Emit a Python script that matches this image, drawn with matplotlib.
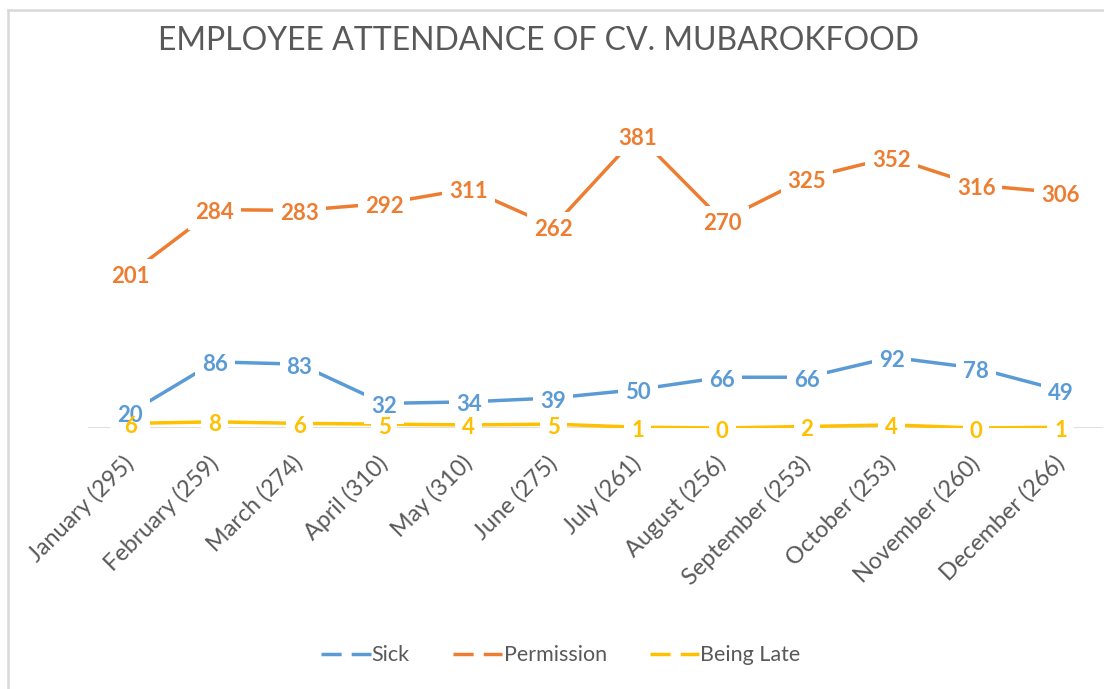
import matplotlib.pyplot as plt
from matplotlib.lines import Line2D
from matplotlib.patches import Rectangle
import matplotlib.transforms as mtransforms

# Data
months = ['January (295)', 'February (259)', 'March (274)', 'April (310)', 'May (310)',
          'June (275)', 'July (261)', 'August (256)', 'September (253)', 'October (253)',
          'November (260)', 'December (266)']
sick = [20, 86, 83, 32, 34, 39, 50, 66, 66, 92, 78, 49]
permission = [201, 284, 283, 292, 311, 262, 381, 270, 325, 352, 316, 306]
being_late = [6, 8, 6, 5, 4, 5, 1, 0, 2, 4, 0, 1]

series = [('Sick', sick, '#5B9BD5'),
          ('Permission', permission, '#ED7D31'),
          ('Being Late', being_late, '#FFC000')]

plt.rcParams['font.family'] = ['Lato', 'DejaVu Sans']

fig = plt.figure(figsize=(11.04, 6.89), dpi=100)
ax = fig.add_axes([88 / 1104, (689 - 428) / 689, (1103 - 88) / 1104, (428 - 82) / 689])

x = list(range(len(months)))
ax.axhline(0, color='#d9d9d9', lw=1.2, zorder=1)

# labels sit slightly below the point, like Excel's centred data labels
shift = mtransforms.offset_copy(ax.transData, fig=fig, x=0, y=-3, units='dots')
labels = []
for name, vals, col in series:
    ax.plot(x, vals, color=col, lw=2.5, solid_capstyle='butt', zorder=2)
    for xi, v in zip(x, vals):
        t = ax.text(xi, v, str(v), color=col, fontsize=16, fontweight='bold',
                    ha='center', va='center', zorder=4, transform=shift)
        labels.append(t)

ax.set_xlim(-0.5, len(months) - 0.5)
ax.set_ylim(0, 450)
ax.set_yticks([])
for s in ax.spines.values():
    s.set_visible(False)
ax.set_xticks(x)
ax.set_xticklabels(months, rotation=45, ha='right', va='center', rotation_mode='anchor',
                   fontsize=16.8, color='#595959')
ax.tick_params(axis='x', length=0, pad=23)

fig.text(0.488, 0.94, 'EMPLOYEE ATTENDANCE OF CV. MUBAROKFOOD', ha='center', va='center',
         fontsize=23, color='#595959')

handles = [Line2D([0], [0], color=col, lw=2.5, linestyle=(0, (5.8, 2.9)))
           for name, vals, col in series]
fig.legend(handles, [s[0] for s in series], loc='center', bbox_to_anchor=(0.508, 0.049),
           ncol=3, frameon=False, fontsize=15.5, labelcolor='#595959',
           handlelength=2.3, handletextpad=0.05, columnspacing=2.0)

# white boxes behind the labels cut the lines (texts stay on top)
fig.canvas.draw()
inv = ax.transData.inverted()
for t in labels:
    bb = t.get_window_extent().padded(7)
    (x0, y0), (x1, y1) = inv.transform([[bb.x0, bb.y0], [bb.x1, bb.y1]])
    ax.add_patch(Rectangle((x0, y0), x1 - x0, y1 - y0, fc='white', ec='none',
                           zorder=3, clip_on=False))

# chart border (top and left edges visible)
fig.add_artist(Line2D([8 / 1104, 8 / 1104], [0, 1 - 10 / 689], color='#d9d9d9', lw=1.8))
fig.add_artist(Line2D([8 / 1104, 1], [1 - 10 / 689, 1 - 10 / 689], color='#d9d9d9', lw=1.8))

fig.savefig('out.png', dpi=100, facecolor='white')
